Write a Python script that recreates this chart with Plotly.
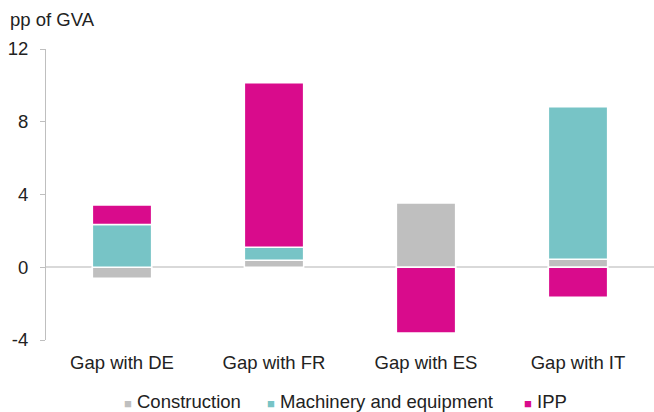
import plotly.graph_objects as go

categories = ["Gap with DE", "Gap with FR", "Gap with ES", "Gap with IT"]
construction = [-0.6, 0.38, 3.55, 0.44]
machinery = [2.35, 0.72, 0.0, 8.39]
ipp = [1.07, 9.05, -3.62, -1.65]
y_ticks = [-4, 0, 4, 8, 12]
y_ticktext = ["-4", "0", "4", "8", "12"]

series = [
    ("Construction", construction, "#BFBFBF"),
    ("Machinery and equipment", machinery, "#77C4C6"),
    ("IPP", ipp, "#D90B8C"),
]
legend_x = [0.125, 0.36, 0.783]  # paper positions of legend entries

fig = go.Figure()
for name, vals, col in series:
    fig.add_trace(go.Bar(
        x=categories, y=vals, name=name, showlegend=False,
        marker=dict(color=col, line=dict(color="white", width=1.5)),
    ))

font = "Liberation Sans, Arial, sans-serif"
annotations = [dict(text="pp of GVA", xref="paper", yref="paper", x=-0.062, y=1.06,
                    xanchor="left", yanchor="bottom", showarrow=False,
                    font=dict(size=18.5, color="#222222"))]
for (name, vals, col), lx in zip(series, legend_x):
    annotations.append(dict(
        text=f"<span style='color:{col};font-size:13px'>■</span> {name}",
        xref="paper", yref="paper", x=lx, y=-0.213, xanchor="left", yanchor="middle",
        showarrow=False, font=dict(size=18.5, color="#222222")))

fig.update_layout(
    barmode="relative",
    bargap=0.61,
    width=654, height=412,
    margin=dict(l=46, r=0, t=49, b=72),
    paper_bgcolor="white", plot_bgcolor="white",
    font=dict(family=font, size=18.5, color="#222222"),
    showlegend=False,
    annotations=annotations,
)
fig.update_yaxes(
    range=[-4, 12], tickvals=y_ticks, ticktext=y_ticktext, showgrid=False, automargin=False,
    showline=True, linecolor="#BFBFBF", linewidth=1,
    ticks="outside", ticklen=5, tickcolor="#BFBFBF", ticklabelstandoff=8,
    zeroline=True, zerolinecolor="#D9D9D9", zerolinewidth=2,
    tickfont=dict(size=18.5),
)
fig.update_xaxes(showgrid=False, showline=False, ticks="", ticklabelstandoff=9,
                 automargin=False, tickfont=dict(size=18.5))

fig.write_html("out.html")
